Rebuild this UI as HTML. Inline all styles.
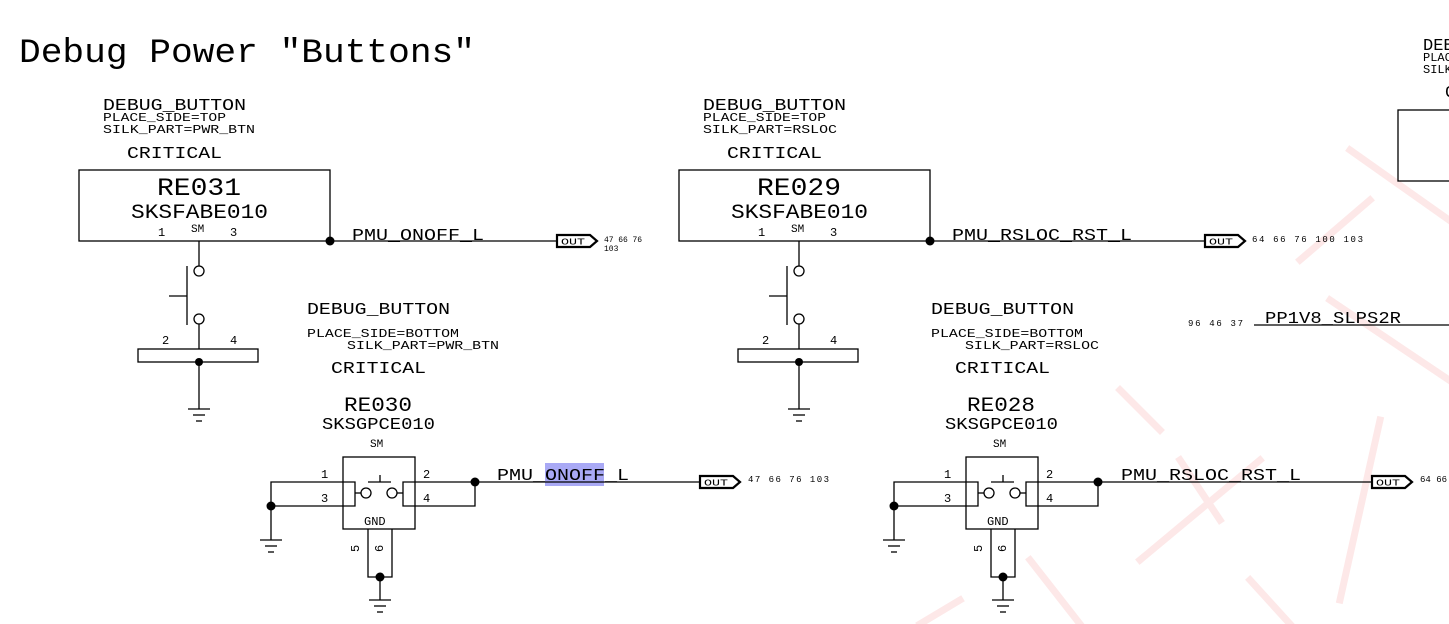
<!DOCTYPE html>
<html><head><meta charset="utf-8"><style>
html,body{margin:0;padding:0;background:#fff;}
svg{display:block;}
text{font-family:"Liberation Mono","DejaVu Sans Mono",monospace;fill:#000;}
</style></head><body>
<svg width="1449" height="624" viewBox="0 0 1449 624" xmlns="http://www.w3.org/2000/svg">
<defs>
<g id="gnd" stroke="#000" stroke-width="1.3"><line x1="-11" y1="0" x2="11" y2="0"/><line x1="-6" y1="6" x2="6" y2="6"/><line x1="-3" y1="12" x2="3" y2="12"/></g>
<g id="flag"><path d="M0,-6 L33,-6 L40,0 L33,6 L0,6 Z" fill="#fff" stroke="#000" stroke-width="2.2"/><text x="4" y="3.5" font-size="9" textLength="24" lengthAdjust="spacingAndGlyphs">OUT</text></g>
<g id="top" fill="none" stroke="#000" stroke-width="1.3">
<rect x="79" y="170" width="251" height="71"/>
<line x1="199" y1="241" x2="199" y2="266"/>
<circle cx="199" cy="271" r="5"/>
<circle cx="199" cy="319" r="5"/>
<line x1="187" y1="266" x2="187" y2="325"/>
<line x1="169" y1="296" x2="187" y2="296"/>
<line x1="199" y1="324" x2="199" y2="349"/>
<rect x="138" y="349" width="120" height="13"/>
<line x1="199" y1="362" x2="199" y2="409"/>
<use href="#gnd" x="199" y="409"/>
<circle cx="199" cy="362" r="4" fill="#000" stroke="none"/>
<circle cx="330" cy="241" r="4.5" fill="#000" stroke="none"/>
</g>
<g id="bot" fill="none" stroke="#000" stroke-width="1.3">
<rect x="343" y="457" width="72" height="72"/>
<polyline points="271,540 271,482 355,482 355,506 271,506"/>
<line x1="355" y1="493" x2="361" y2="493"/>
<circle cx="366" cy="493" r="5"/>
<circle cx="392" cy="493" r="5"/>
<line x1="397" y1="493" x2="403" y2="493"/>
<polyline points="475,482 403,482 403,506 475,506 475,482"/>
<line x1="368" y1="482" x2="391" y2="482"/>
<line x1="380" y1="475" x2="380" y2="482"/>
<polyline points="368,529 368,577 392,577 392,529"/>
<line x1="380" y1="577" x2="380" y2="600"/>
<use href="#gnd" x="380" y="600"/>
<use href="#gnd" x="271" y="540"/>
<circle cx="380" cy="577" r="4.5" fill="#000" stroke="none"/>
<circle cx="271" cy="506" r="4.5" fill="#000" stroke="none"/>
<circle cx="475" cy="482" r="4.5" fill="#000" stroke="none"/>
</g>
</defs>

<!-- faint watermark -->
<g stroke="#fde8e8" stroke-width="7" fill="none" stroke-linecap="square">
<line x1="1350" y1="150" x2="1449" y2="220"/>
<line x1="1370" y1="200" x2="1300" y2="260"/>
<line x1="1330" y1="300" x2="1449" y2="380"/>
<line x1="1180" y1="460" x2="1220" y2="520"/>
<line x1="1140" y1="560" x2="1260" y2="460"/>
<line x1="1250" y1="580" x2="1290" y2="624"/>
<line x1="1380" y1="420" x2="1340" y2="600"/>
<line x1="960" y1="600" x2="920" y2="624"/>
<line x1="1030" y1="560" x2="1080" y2="624"/>
<line x1="1120" y1="390" x2="1160" y2="430"/>
</g>

<text x="19" y="62" font-size="34" textLength="456" lengthAdjust="spacingAndGlyphs">Debug Power "Buttons"</text>

<!-- top left -->
<use href="#top"/>
<text x="103" y="110" font-size="17" textLength="143" lengthAdjust="spacingAndGlyphs">DEBUG_BUTTON</text>
<text x="103" y="121" font-size="12" textLength="123" lengthAdjust="spacingAndGlyphs">PLACE_SIDE=TOP</text>
<text x="103" y="133" font-size="12" textLength="152" lengthAdjust="spacingAndGlyphs">SILK_PART=PWR_BTN</text>
<text x="127" y="158" font-size="17" textLength="95" lengthAdjust="spacingAndGlyphs">CRITICAL</text>
<text x="157" y="195" font-size="25" textLength="84" lengthAdjust="spacingAndGlyphs">RE031</text>
<text x="131" y="218" font-size="20" textLength="137" lengthAdjust="spacingAndGlyphs">SKSFABE010</text>
<text x="158" y="236" font-size="12">1</text>
<text x="191" y="232" font-size="11">SM</text>
<text x="230" y="236" font-size="12">3</text>
<text x="162" y="344" font-size="12">2</text>
<text x="230" y="344" font-size="12">4</text>
<line x1="330" y1="241" x2="557" y2="241" stroke="#000" stroke-width="1.3"/>
<text x="352" y="240" font-size="17" textLength="132" lengthAdjust="spacingAndGlyphs">PMU_ONOFF_L</text>
<use href="#flag" x="557" y="241"/>
<text x="604" y="242" font-size="8" textLength="38">47  66  76</text>
<text x="604" y="251" font-size="8">103</text>

<!-- top right -->
<use href="#top" x="600"/>
<text x="703" y="110" font-size="17" textLength="143" lengthAdjust="spacingAndGlyphs">DEBUG_BUTTON</text>
<text x="703" y="121" font-size="12" textLength="123" lengthAdjust="spacingAndGlyphs">PLACE_SIDE=TOP</text>
<text x="703" y="133" font-size="12" textLength="134" lengthAdjust="spacingAndGlyphs">SILK_PART=RSLOC</text>
<text x="727" y="158" font-size="17" textLength="95" lengthAdjust="spacingAndGlyphs">CRITICAL</text>
<text x="757" y="195" font-size="25" textLength="84" lengthAdjust="spacingAndGlyphs">RE029</text>
<text x="731" y="218" font-size="20" textLength="137" lengthAdjust="spacingAndGlyphs">SKSFABE010</text>
<text x="758" y="236" font-size="12">1</text>
<text x="791" y="232" font-size="11">SM</text>
<text x="830" y="236" font-size="12">3</text>
<text x="762" y="344" font-size="12">2</text>
<text x="830" y="344" font-size="12">4</text>
<line x1="930" y1="241" x2="1205" y2="241" stroke="#000" stroke-width="1.3"/>
<text x="952" y="240" font-size="17" textLength="180" lengthAdjust="spacingAndGlyphs">PMU_RSLOC_RST_L</text>
<use href="#flag" x="1205" y="241"/>
<text x="1252" y="242" font-size="9" textLength="111">64  66  76  100  103</text>

<!-- bottom left -->
<text x="307" y="314" font-size="17" textLength="143" lengthAdjust="spacingAndGlyphs">DEBUG_BUTTON</text>
<text x="307" y="337" font-size="12" textLength="152" lengthAdjust="spacingAndGlyphs">PLACE_SIDE=BOTTOM</text>
<text x="347" y="349" font-size="12" textLength="152" lengthAdjust="spacingAndGlyphs">SILK_PART=PWR_BTN</text>
<text x="331" y="373" font-size="17" textLength="95" lengthAdjust="spacingAndGlyphs">CRITICAL</text>
<text x="344" y="411" font-size="20" textLength="68" lengthAdjust="spacingAndGlyphs">RE030</text>
<text x="322" y="429" font-size="17" textLength="113" lengthAdjust="spacingAndGlyphs">SKSGPCE010</text>
<text x="370" y="447" font-size="11">SM</text>
<use href="#bot"/>
<text x="321" y="478" font-size="12">1</text>
<text x="321" y="502" font-size="12">3</text>
<text x="423" y="478" font-size="12">2</text>
<text x="423" y="502" font-size="12">4</text>
<text x="364" y="525" font-size="12">GND</text>
<text transform="translate(359,552) rotate(-90)" font-size="12">5</text>
<text transform="translate(383,552) rotate(-90)" font-size="12">6</text>
<rect x="545" y="463" width="59" height="23" fill="#a9a9f5"/>
<line x1="475" y1="482" x2="700" y2="482" stroke="#000" stroke-width="1.3"/>
<text x="497" y="480" font-size="17" textLength="132" lengthAdjust="spacingAndGlyphs">PMU_ONOFF_L</text>
<use href="#flag" x="700" y="482"/>
<text x="748" y="482" font-size="9" textLength="81">47   66   76   103</text>

<!-- bottom right -->
<text x="931" y="314" font-size="17" textLength="143" lengthAdjust="spacingAndGlyphs">DEBUG_BUTTON</text>
<text x="931" y="337" font-size="12" textLength="152" lengthAdjust="spacingAndGlyphs">PLACE_SIDE=BOTTOM</text>
<text x="965" y="349" font-size="12" textLength="134" lengthAdjust="spacingAndGlyphs">SILK_PART=RSLOC</text>
<text x="955" y="373" font-size="17" textLength="95" lengthAdjust="spacingAndGlyphs">CRITICAL</text>
<text x="967" y="411" font-size="20" textLength="68" lengthAdjust="spacingAndGlyphs">RE028</text>
<text x="945" y="429" font-size="17" textLength="113" lengthAdjust="spacingAndGlyphs">SKSGPCE010</text>
<text x="993" y="447" font-size="11">SM</text>
<use href="#bot" x="623"/>
<text x="944" y="478" font-size="12">1</text>
<text x="944" y="502" font-size="12">3</text>
<text x="1046" y="478" font-size="12">2</text>
<text x="1046" y="502" font-size="12">4</text>
<text x="987" y="525" font-size="12">GND</text>
<text transform="translate(982,552) rotate(-90)" font-size="12">5</text>
<text transform="translate(1006,552) rotate(-90)" font-size="12">6</text>
<line x1="1098" y1="482" x2="1372" y2="482" stroke="#000" stroke-width="1.3"/>
<text x="1121" y="480" font-size="17" textLength="180" lengthAdjust="spacingAndGlyphs">PMU_RSLOC_RST_L</text>
<use href="#flag" x="1372" y="482"/>
<text x="1420" y="482" font-size="9">64  66</text>

<!-- far right -->
<text x="1423" y="50" font-size="17">DEBUG</text>
<text x="1423" y="61" font-size="12">PLACE</text>
<text x="1423" y="73" font-size="12">SILK</text>
<text x="1445" y="97" font-size="17">C</text>
<rect x="1398" y="110" width="60" height="71" fill="none" stroke="#000" stroke-width="1.3"/>
<text x="1188" y="326" font-size="9" textLength="55">96   46   37</text>
<text x="1265" y="323" font-size="17" textLength="136" lengthAdjust="spacingAndGlyphs">PP1V8_SLPS2R</text>
<line x1="1254" y1="325" x2="1449" y2="325" stroke="#000" stroke-width="1.3"/>
</svg>
</body></html>
